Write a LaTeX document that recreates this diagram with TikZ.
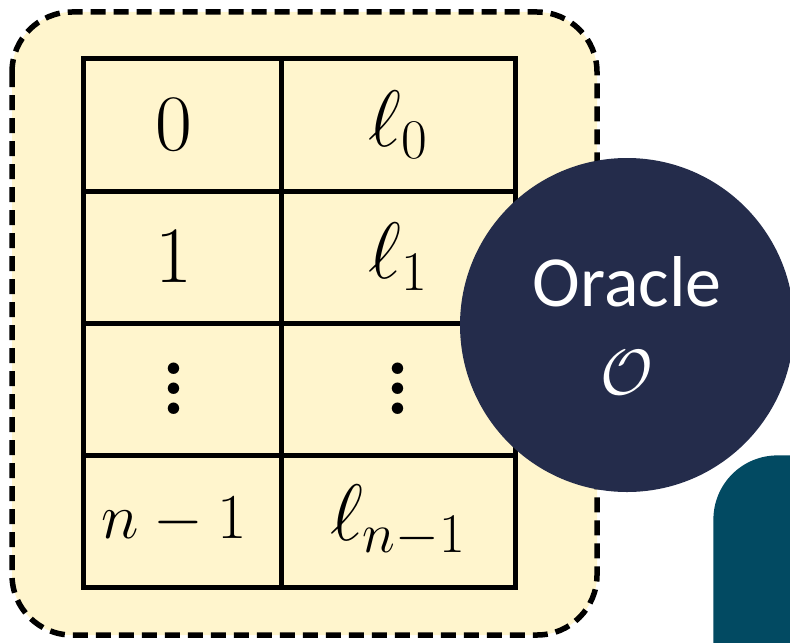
\RequirePackage{fix-cm}
\documentclass[tikz,border=0pt]{standalone}
\usepackage{fontspec}
\usepackage{amsmath}
\usetikzlibrary{positioning}
\newfontfamily\labelfont{Carlito}

\definecolor{paleyellow}{HTML}{FFF5CD}
\definecolor{oraclenavy}{HTML}{242C4B}
\definecolor{deepteal}{HTML}{024A62}

% three big dots, spaced for the large table font
\newcommand{\tallvdots}{\vbox{\bfseries\baselineskip=10pt \lineskiplimit=-10pt \hbox{.}\hbox{.}\hbox{.}}}

\tikzstyle{holder} = [fill=paleyellow, draw=black, line width=2.75pt, dash pattern=on 7.5pt off 4pt, rounded corners=30pt]
\tikzstyle{cell} = [rectangle, minimum height=66pt, inner sep=0pt, draw=black, line width=2.5pt, font=\fontsize{40}{48}\selectfont]
\tikzstyle{keycell} = [cell, minimum width=99pt, execute at begin node=\hspace*{-8pt}]
\tikzstyle{valcell} = [cell, minimum width=117pt]
\tikzstyle{oracle} = [circle, fill=oraclenavy, minimum size=167pt, inner sep=0pt, text=white, align=center, font=\labelfont\fontsize{36}{44}\selectfont]
\tikzstyle{panel} = [rectangle, fill=deepteal, rounded corners=32pt, minimum width=150pt, minimum height=150pt, anchor=north west]

\begin{document}
\begin{tikzpicture}[x=0.5pt, y=-0.5pt, node distance = 66pt]
        \useasboundingbox (0,0) rectangle (790,642);

        % dashed lookup-table holder
        \draw [holder] (12,12) rectangle (597,635);

        % key column
        \node (zero) [keycell] at (182,125) {$0$};
        \node (one) [keycell, below of = zero] {$1$};
        \node (keydots) [keycell, below of = one] {\tallvdots};
        \node (last) [keycell, below of = keydots, font=\fontsize{32}{38}\selectfont] {$n-1$};

        % value column
        \node (ellzero) [valcell, node distance = 108pt, right of = zero] {$\ell_0$};
        \node (ellone) [valcell, node distance = 108pt, right of = one] {$\ell_1$};
        \node (valdots) [valcell, node distance = 108pt, right of = keydots] {\tallvdots};
        \node (elllast) [valcell, node distance = 108pt, right of = last] {$\ell_{n-1}$};

        % oracle on top of the table
        \node (orc) [oracle] at (627,325) {Oracle\\{\fontsize{32}{38}\selectfont$\mathcal{O}$}};

        % panel running off the corner
        \node (fpanel) [panel] at (713,455) {};
        \node (ftext) [anchor=base west, text=white, font=\labelfont\fontsize{30}{36}\selectfont] at (780,548) {F};

    \end{tikzpicture}
\end{document}
